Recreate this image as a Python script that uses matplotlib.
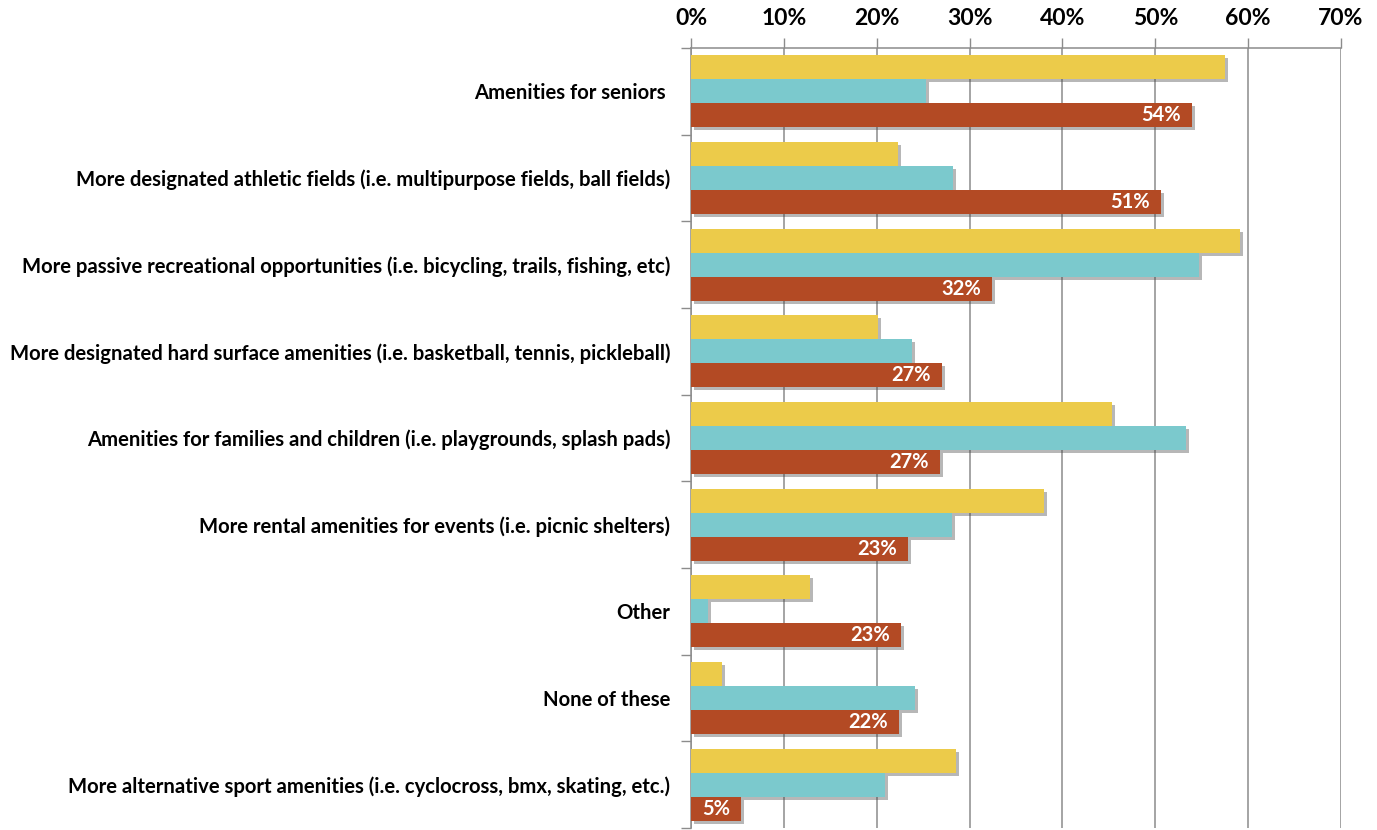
import matplotlib
matplotlib.use("Agg")
import matplotlib.pyplot as plt
import matplotlib.patheffects as pe
from matplotlib.ticker import FixedLocator, PercentFormatter
import numpy as np

categories = [
    "Amenities for seniors ",
    "More designated athletic fields (i.e. multipurpose fields, ball fields)",
    "More passive recreational opportunities (i.e. bicycling, trails, fishing, etc)",
    "More designated hard surface amenities (i.e. basketball, tennis, pickleball)",
    "Amenities for families and children (i.e. playgrounds, splash pads)",
    "More rental amenities for events (i.e. picnic shelters)",
    "Other",
    "None of these",
    "More alternative sport amenities (i.e. cyclocross, bmx, skating, etc.)",
]
yellow_vals = [57.5, 22.3, 59.1, 20.1, 45.3, 38.0, 12.8, 3.3, 28.5]
teal_vals = [25.3, 28.2, 54.7, 23.8, 53.3, 28.1, 1.8, 24.1, 20.9]
red_vals = [53.9, 50.6, 32.4, 27.0, 26.8, 23.4, 22.6, 22.4, 5.4]
x_ticks = [0, 10, 20, 30, 40, 50, 60, 70]

YELLOW = "#ECCB4A"
TEAL = "#7BC9CD"
RED = "#B34A24"
GRID = "#8C8C8C"
FONT = "Lato"

fig = plt.figure(figsize=(13.77, 8.30), dpi=100)
ax = fig.add_axes([691 / 1377, 1 - 828 / 830, 650 / 1377, 780 / 830])

n = len(categories)
y = np.arange(n)
h = 0.277

shadow = [pe.SimplePatchShadow(offset=(2.2, -2.2), shadow_rgbFace="#444444", alpha=0.38), pe.Normal()]

for vals, off, col in [(yellow_vals, -h, YELLOW), (teal_vals, 0, TEAL), (red_vals, h, RED)]:
    bars = ax.barh(y + off, vals, height=h, color=col, zorder=3)
    for b in bars:
        b.set_path_effects(shadow)

for yi, v in zip(y, red_vals):
    ax.text(v - 1.2, yi + h, f"{v:.0f}%", ha="right", va="center", color="white",
            fontsize=14.5, fontweight="bold", family=FONT, zorder=5)

ax.set_xlim(0, 70)
ax.set_ylim(n - 0.5, -0.5)
ax.xaxis.set_major_locator(FixedLocator(x_ticks))
ax.xaxis.set_major_formatter(PercentFormatter(decimals=0))
ax.xaxis.tick_top()
ax.tick_params(axis="x", direction="out", length=7, width=1, color=GRID, pad=7,
               labelsize=16.5, labelcolor="black")
for lab in ax.get_xticklabels():
    lab.set_fontweight("bold")
    lab.set_family(FONT)

ax.set_yticks(y)
ax.set_yticklabels(categories)
ax.tick_params(axis="y", which="major", length=0, pad=15, labelsize=14.6)
for lab in ax.get_yticklabels():
    lab.set_fontweight("bold")
    lab.set_family(FONT)
ax.yaxis.set_minor_locator(FixedLocator(np.arange(-0.5, n, 1.0)))
ax.tick_params(axis="y", which="minor", direction="out", length=7, width=1, color=GRID)

ax.grid(axis="x", color=GRID, linewidth=1.1, zorder=0)
ax.set_axisbelow(True)
for s in ["right", "bottom"]:
    ax.spines[s].set_visible(False)
for s in ["top", "left"]:
    ax.spines[s].set_color(GRID)
    ax.spines[s].set_linewidth(1.1)

fig.savefig("out.png", dpi=100)
